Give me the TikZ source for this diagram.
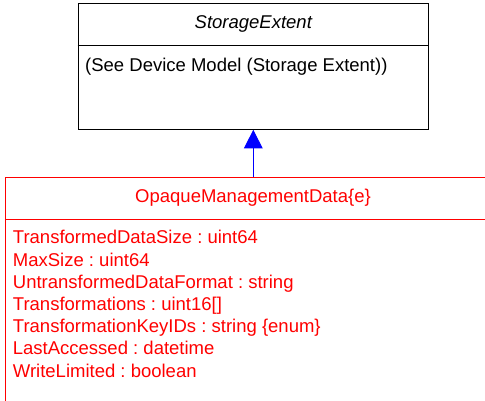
\documentclass[tikz,border=0pt]{standalone}
\usepackage{fontspec}
\setmainfont{Liberation Sans}
\usetikzlibrary{arrows.meta}
\definecolor{umlred}{RGB}{255,0,0}
\definecolor{umlblue}{RGB}{0,0,255}
\frenchspacing
\begin{document}
\begin{tikzpicture}[x=1pt,y=1pt,
  uml/.style={line width=1.1pt,inner sep=0pt,rectangle},
  txt/.style={inner sep=0pt,font=\fontsize{18.5}{22.2}\selectfont\frenchspacing},
  redtxt/.style={txt,text=umlred}]
\useasboundingbox (0,0) rectangle (485,401);
\clip (0,0) rectangle (485,401);
% top class
\node[uml,draw=black,line width=0.9pt,minimum width=350.7pt,minimum height=126pt] (st) at (253.3,334.7) {};
\draw[draw=black,line width=0.9pt] ([yshift=-42.3pt]st.north west) -- ([yshift=-42.3pt]st.north east);
\node[txt,anchor=base] (stname) at (253.3,372.7) {\itshape StorageExtent};
\node[txt,anchor=base west] (stattr) at (85,329.3) {(See Device Model (Storage Extent))};
% red class
\node[uml,draw=umlred,minimum width=490pt,minimum height=233.7pt] (opq) at (250.5,106.85) {};
\draw[draw=umlred,line width=1.1pt] ([yshift=-42.7pt]opq.north west) -- ([yshift=-42.7pt]opq.north east);
\node[redtxt,anchor=base] (opqname) at (253,198.3) {OpaqueManagementData\{e\}};
\foreach \t [count=\i] in {TransformedDataSize : uint64, MaxSize : uint64, UntransformedDataFormat : string, Transformations : uint16[], TransformationKeyIDs : string \{enum\}, LastAccessed : datetime, WriteLimited : boolean}
  \node[redtxt,anchor=base west] (a\i) at (12.7,{157-(\i-1)*22.2}) {\t};
% generalization
\draw[draw=umlblue,fill=umlblue,line width=1pt,-{Triangle[width=18.7pt,length=18.7pt]}] (opq.north -| st.south) -- (st.south);
\end{tikzpicture}
\end{document}
